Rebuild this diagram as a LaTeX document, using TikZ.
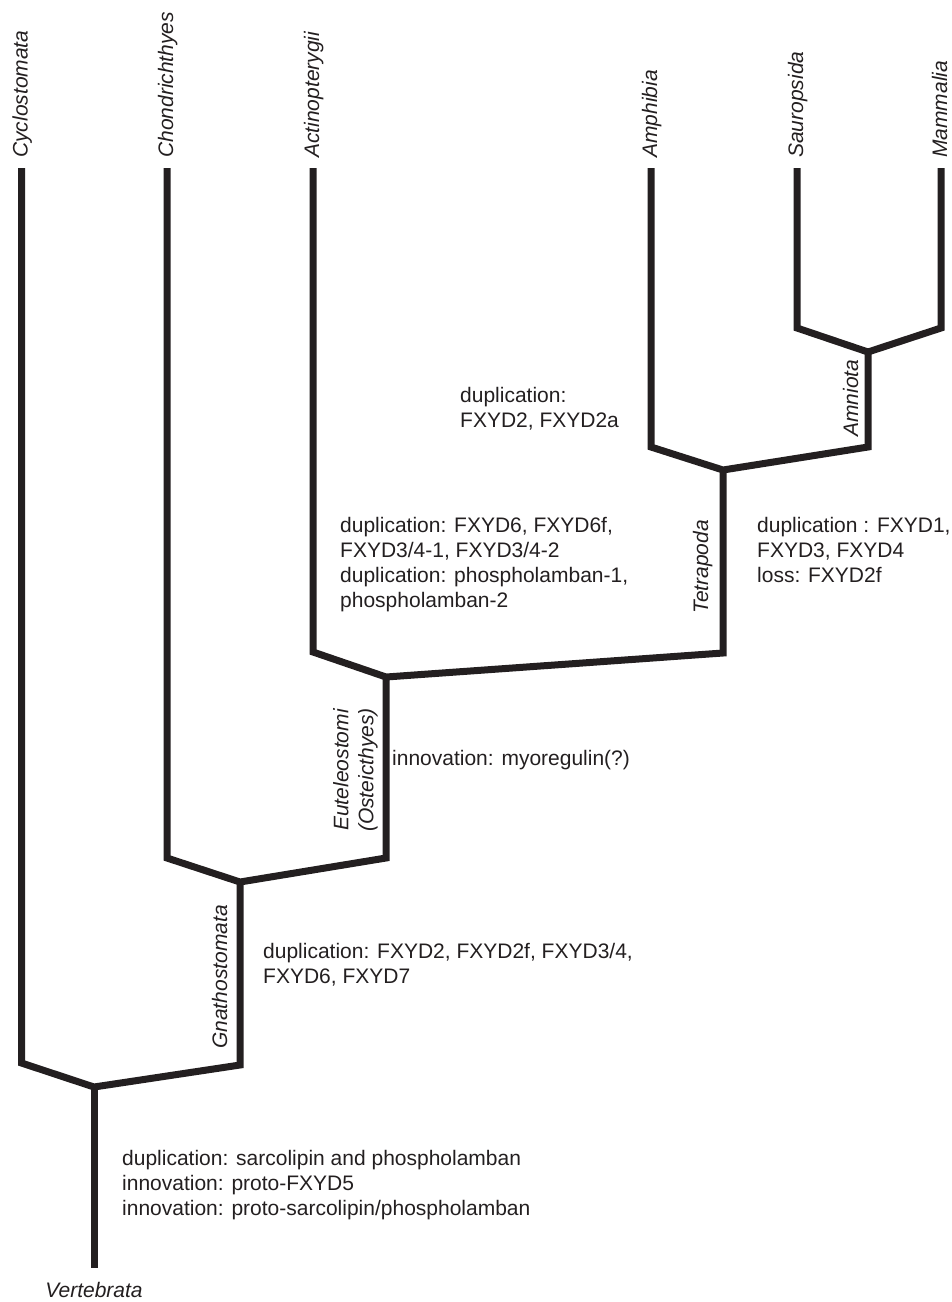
\documentclass[tikz,border=0pt]{standalone}
\usepackage{fontspec}
\setmainfont{Liberation Sans}
\definecolor{inkblack}{HTML}{231F20}
\newcommand\treefont{\fontsize{21}{25}\selectfont}

\begin{document}
\begin{tikzpicture}[x=1pt,y=-1pt,
  branch/.style={draw=inkblack,line width=7pt,line join=miter},
  taxon/.style={font=\treefont\itshape,text=inkblack,rotate=90,inner sep=0pt,anchor=base west},
  clade/.style={font=\treefont\itshape,text=inkblack,rotate=90,inner sep=0pt,anchor=base},
  event/.style={font=\treefont,text=inkblack,align=left,inner sep=0pt,anchor=north west}]
\useasboundingbox (0,0) rectangle (952,1302);
\coordinate (cyc) at (21.5,168);
\coordinate (chon) at (167,168);
\coordinate (act) at (313,168);
\coordinate (amp) at (651,168);
\coordinate (sau) at (797,168);
\coordinate (mam) at (941,168);
\coordinate (amn) at (868,352);
\coordinate (tet) at (723,470);
\coordinate (eut) at (386,677);
\coordinate (gna) at (240,882);
\coordinate (vert) at (94,1087);
\coordinate (vroot) at (94,1268);
\draw[branch] (cyc) -- ++(0,895) -- (vert) -- ++(146,-22) -- (gna);
\draw[branch] (chon) -- ++(0,690) -- (gna) -- ++(146,-24) -- (eut);
\draw[branch] (act) -- ++(0,484) -- (eut) -- ++(337,-24) -- (tet);
\draw[branch] (amp) -- ++(0,279) -- (tet) -- ++(145,-23) -- (amn);
\draw[branch] (sau) -- ++(0,160) -- (amn) -- ++(73,-24) -- (mam);
\draw[branch] (vert) -- (vroot);
\node[taxon] (cyclab) at (27.5,158) {Cyclostomata};
\node[taxon] (chonlab) at (173,158) {Chondrichthyes};
\node[taxon] (actlab) at (319,158) {Actinopterygii};
\node[taxon] (amplab) at (657,158) {Amphibia};
\node[taxon] (saulab) at (803,158) {Sauropsida};
\node[taxon] (mamlab) at (947,158) {Mammalia};
\node[clade] (amnlab) at (858,398) {Amniota};
\node[clade] (tetlab) at (708,567) {Tetrapoda};
\node[clade,align=center,anchor=south] (eutlab) at (378,770) {Euteleostomi\\(Osteicthyes)};
\node[clade] (gnalab) at (227,977) {Gnathostomata};
\node[font=\treefont\itshape,text=inkblack,inner sep=0pt,anchor=base] (vertlab) at (94,1297) {Vertebrata};
\node[event] (dupamp) at (460,387) {duplication:\\FXYD2, FXYD2a};
\node[event] (dupact) at (340,517) {duplication: FXYD6, FXYD6f,\\FXYD3/4-1, FXYD3/4-2\\duplication: phospholamban-1,\\phospholamban-2};
\node[event] (duptet) at (757,517) {duplication : FXYD1,\\FXYD3, FXYD4\\loss: FXYD2f};
\node[event] (inneut) at (392,750) {innovation: myoregulin(?)};
\node[event] (dupgna) at (263,943) {duplication: FXYD2, FXYD2f, FXYD3/4,\\FXYD6, FXYD7};
\node[event] (dupvert) at (122,1150) {duplication: sarcolipin and phospholamban\\innovation: proto-FXYD5\\innovation: proto-sarcolipin/phospholamban};
\end{tikzpicture}
\end{document}
